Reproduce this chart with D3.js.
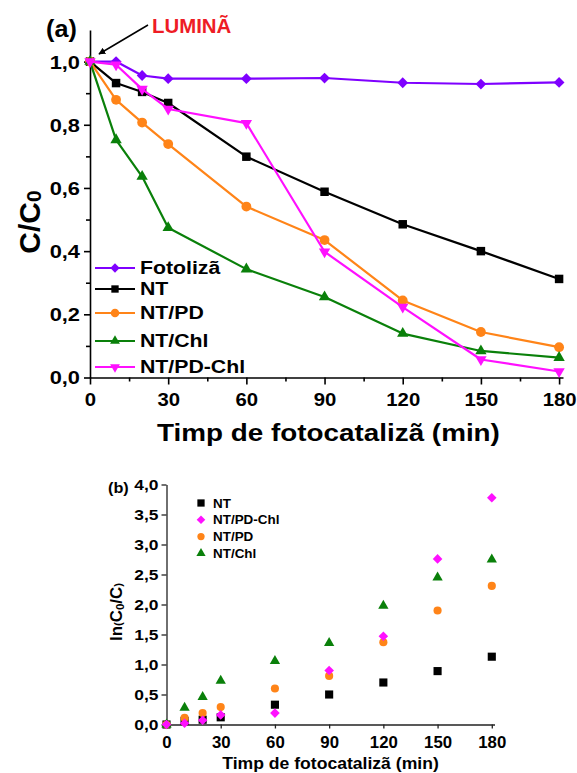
<!DOCTYPE html>
<html><head><meta charset="utf-8">
<script src="https://cdn.jsdelivr.net/npm/d3@7"></script>
<style>
html,body{margin:0;padding:0;background:#fff;}
svg{display:block;font-family:Arial,"Liberation Sans",sans-serif;}
</style></head><body>
<svg id="fig" width="577" height="773"></svg>
<script>
// Irradiation times (min)
const times = [0, 10, 20, 30, 60, 90, 120, 150, 180];

// (a) Relative concentration C/C0 of each sample
const fotoliza = [1.0, 1.0, 0.956, 0.946, 0.946, 0.948, 0.933, 0.929, 0.934];
const nt       = [1.0, 0.932, 0.904, 0.869, 0.699, 0.588, 0.485, 0.400, 0.312];
const ntPd     = [1.0, 0.879, 0.807, 0.739, 0.541, 0.435, 0.244, 0.144, 0.096];
const ntChl    = [1.0, 0.752, 0.636, 0.474, 0.343, 0.255, 0.139, 0.084, 0.063];
const ntPdChl  = [1.0, 0.990, 0.913, 0.850, 0.805, 0.398, 0.223, 0.057, 0.019];

// (b) Kinetic plot, ln(C0/C)
const lnNt      = [0, 0.06, 0.08, 0.12, 0.33, 0.50, 0.70, 0.89, 1.13];
const lnNtPdChl = [0, 0.02, 0.07, 0.16, 0.19, 0.90, 1.47, 2.76, 3.78];
const lnNtPd    = [0, 0.11, 0.19, 0.29, 0.60, 0.81, 1.37, 1.90, 2.31];
const lnNtChl   = [0, 0.28, 0.46, 0.73, 1.06, 1.36, 1.98, 2.45, 2.75];

// Tick values
const xTicks      = [0, 30, 60, 90, 120, 150, 180];
const xMinorTicks = [15, 45, 75, 105, 135, 165];
const yTicksA      = [0, 0.2, 0.4, 0.6, 0.8, 1.0];
const yMinorTicksA = [0.1, 0.3, 0.5, 0.7, 0.9];
const yTicksB     = [0, 0.5, 1, 1.5, 2, 2.5, 3, 3.5, 4];

const COLORS = {violet: "#7f00ff", black: "#000000", orange: "#ff8418", green: "#0a800a", magenta: "#ff10ff"};

const svg = d3.select("#fig");
const fmt = d => d3.format(".1f")(d).replace(".", ",");

// Bold text helper; parts = [[string, fontSize?, dy?], ...]
function addText(parent, x, y, parts, o) {
  let tr = `translate(${x},${y})`;
  if (o.rotate) tr += ` rotate(${o.rotate})`;
  if (o.sx) tr += ` scale(${o.sx},1)`;
  const t = parent.append("text")
    .attr("transform", tr)
    .attr("text-anchor", o.anchor || "start")
    .attr("font-size", o.size)
    .attr("font-weight", "bold")
    .attr("fill", o.fill || "#000");
  (typeof parts === "string" ? [[parts]] : parts).forEach(([s, size, dy]) => {
    const ts = t.append("tspan").text(s);
    if (size) ts.attr("font-size", size);
    if (dy) ts.attr("dy", dy);
  });
  return t;
}

function symbolD(m, scale = 1) {
  return d3.symbol(m.type, m.area * scale)();
}

// Style the tick labels of an axis group
function styleTicks(g, size, sx, pos, offset) {
  g.attr("font-family", null).attr("font-size", null);
  g.selectAll(".tick text")
    .attr("font-size", size)
    .attr("font-weight", "bold")
    .attr("fill", "#000")
    .each(function () {
      const t = d3.select(this);
      t.attr("transform", `scale(${sx},1)`);
      if (pos === "left") t.attr("x", -offset / sx).attr("dy", "0.35em");
      else t.attr("y", offset).attr("dy", "0.71em");
    });
}

/* ---------------- Panel (a): C/C0 vs time ---------------- */
const xA = d3.scaleLinear().domain([0, 181.5]).range([90, 563]);
const yA = d3.scaleLinear().domain([0, 1.1]).range([377.5, 30]);
const gA = svg.append("g");

const seriesA = [
  {name: "Fotolizã",  values: fotoliza, color: COLORS.violet,  m: {type: d3.symbolSquare,   area: 58, rot: 45}},
  {name: "NT",        values: nt,       color: COLORS.black,   m: {type: d3.symbolSquare,   area: 72, rot: 0}},
  {name: "NT/PD",     values: ntPd,     color: COLORS.orange,  m: {type: d3.symbolCircle,   area: 76, rot: 0}},
  {name: "NT/Chl",    values: ntChl,    color: COLORS.green,   m: {type: d3.symbolTriangle, area: 56, rot: 0}},
  {name: "NT/PD-Chl", values: ntPdChl,  color: COLORS.magenta, m: {type: d3.symbolTriangle, area: 56, rot: 180}}
];

// axes
const axA_x = gA.append("g").attr("transform", `translate(0,${yA(0)})`)
  .call(d3.axisBottom(xA).tickValues(xTicks).tickSize(7).tickSizeOuter(0).tickFormat(d3.format("d")));
gA.append("g").attr("transform", `translate(0,${yA(0)})`)
  .call(d3.axisBottom(xA).tickValues(xMinorTicks).tickSize(4).tickSizeOuter(0).tickFormat(""))
  .select(".domain").remove();
const axA_y = gA.append("g").attr("transform", `translate(${xA(0)},0)`)
  .call(d3.axisLeft(yA).tickValues(yTicksA).tickSize(6).tickSizeOuter(0).tickFormat(fmt));
gA.append("g").attr("transform", `translate(${xA(0)},0)`)
  .call(d3.axisLeft(yA).tickValues(yMinorTicksA).tickSize(4).tickSizeOuter(0).tickFormat(""))
  .select(".domain").remove();
gA.selectAll(".domain, .tick line").attr("stroke", "#000").attr("stroke-width", 1.6);
styleTicks(axA_x, 19, 1.07, "bottom", 15);
styleTicks(axA_y, 18.5, 1.18, "left", 10);

// lines and markers
const lineA = d3.line().x((d, i) => xA(times[i])).y(d => yA(d));
seriesA.forEach(s => {
  gA.append("path").datum(s.values).attr("d", lineA)
    .attr("fill", "none").attr("stroke", s.color).attr("stroke-width", 2.2).attr("stroke-linejoin", "round");
  gA.selectAll(null).data(s.values).enter().append("path")
    .attr("d", symbolD(s.m))
    .attr("transform", (d, i) => `translate(${xA(times[i])},${yA(d)}) rotate(${s.m.rot})`)
    .attr("fill", s.color);
});

// legend (a)
const legRowsA = [268, 289, 313, 341, 367];
seriesA.forEach((s, i) => {
  const y = legRowsA[i];
  gA.append("line").attr("x1", 95).attr("x2", 135).attr("y1", y).attr("y2", y)
    .attr("stroke", s.color).attr("stroke-width", 2.2);
  gA.append("path").attr("d", symbolD(s.m, 0.75))
    .attr("transform", `translate(115,${y}) rotate(${s.m.rot})`).attr("fill", s.color);
  addText(gA, 140, y + 5.5, s.name, {size: 19, sx: 1.12});
});

// titles
addText(gA, 328.5, 441, "Timp de fotocatalizã (min)", {size: 24, anchor: "middle", sx: 1.16});
addText(gA, 40, 222, [["C/C"], ["0", 21, 1]], {size: 30, anchor: "middle", rotate: -90});
addText(gA, 46, 37, "(a)", {size: 24, sx: 1.05});
addText(gA, 152, 33, "LUMINÃ", {size: 20, fill: "#ee1c25", sx: 1.02});

// arrow pointing at light switch-on
const defs = svg.append("defs");
defs.append("marker").attr("id", "arrowHead").attr("viewBox", "0 0 10 10")
  .attr("refX", 9).attr("refY", 5).attr("markerWidth", 7).attr("markerHeight", 7)
  .attr("markerUnits", "userSpaceOnUse").attr("orient", "auto")
  .append("path").attr("d", "M0,0 L10,5 L0,10 Z").attr("fill", "#000");
gA.append("line").attr("x1", 148).attr("y1", 25).attr("x2", 99).attr("y2", 54)
  .attr("stroke", "#000").attr("stroke-width", 1.5).attr("marker-end", "url(#arrowHead)");

/* ---------------- Panel (b): ln(C0/C) vs time ---------------- */
const xB = d3.scaleLinear().domain([0, 181.5]).range([166.5, 494.5]);
const yB = d3.scaleLinear().domain([0, 4]).range([724.5, 484.5]);
const gB = svg.append("g");

const seriesB = [
  {name: "NT",        values: lnNt,      color: COLORS.black,   m: {type: d3.symbolSquare,   area: 66, rot: 0}},
  {name: "NT/PD",     values: lnNtPd,    color: COLORS.orange,  m: {type: d3.symbolCircle,   area: 52, rot: 0}},
  {name: "NT/Chl",    values: lnNtChl,   color: COLORS.green,   m: {type: d3.symbolTriangle, area: 46, rot: 0}},
  {name: "NT/PD-Chl", values: lnNtPdChl, color: COLORS.magenta, m: {type: d3.symbolSquare,   area: 46, rot: 45}}
];
const legendOrderB = ["NT", "NT/PD-Chl", "NT/PD", "NT/Chl"];

const axB_x = gB.append("g").attr("transform", `translate(0,${yB(0)})`)
  .call(d3.axisBottom(xB).tickValues(xTicks).tickSize(4).tickSizeOuter(0).tickFormat(d3.format("d")));
const axB_y = gB.append("g").attr("transform", `translate(${xB(0)},0)`)
  .call(d3.axisLeft(yB).tickValues(yTicksB).tickSize(5).tickSizeOuter(0).tickFormat(fmt));
gB.selectAll(".domain, .tick line").attr("stroke", "#222").attr("stroke-width", 1.3);
styleTicks(axB_x, 16, 1.05, "bottom", 12.5);
styleTicks(axB_y, 14.5, 1.2, "left", 8);

seriesB.forEach(s => {
  gB.selectAll(null).data(s.values).enter().append("path")
    .attr("d", symbolD(s.m))
    .attr("transform", (d, i) => `translate(${xB(times[i])},${yB(d)}) rotate(${s.m.rot})`)
    .attr("fill", s.color);
});

// legend (b)
legendOrderB.forEach((name, i) => {
  const s = seriesB.find(e => e.name === name);
  const y = 503 + i * 16.8;
  gB.append("path").attr("d", symbolD(s.m, 0.8))
    .attr("transform", `translate(201,${y}) rotate(${s.m.rot})`).attr("fill", s.color);
  addText(gB, 213, y + 4.5, s.name, {size: 12, sx: 1.12});
});

addText(gB, 330.5, 769, "Timp de fotocatalizã (min)", {size: 16, anchor: "middle", sx: 1.1});
addText(gB, 122, 612, [["ln"], ["(", 11], ["C"], ["0", 11, 2], ["/C", null, -2], [")", 11]],
  {size: 16, anchor: "middle", rotate: -90, sx: 1.05});
addText(gB, 108, 493, "(b)", {size: 14.5, sx: 1.12});
</script>
</body></html>
